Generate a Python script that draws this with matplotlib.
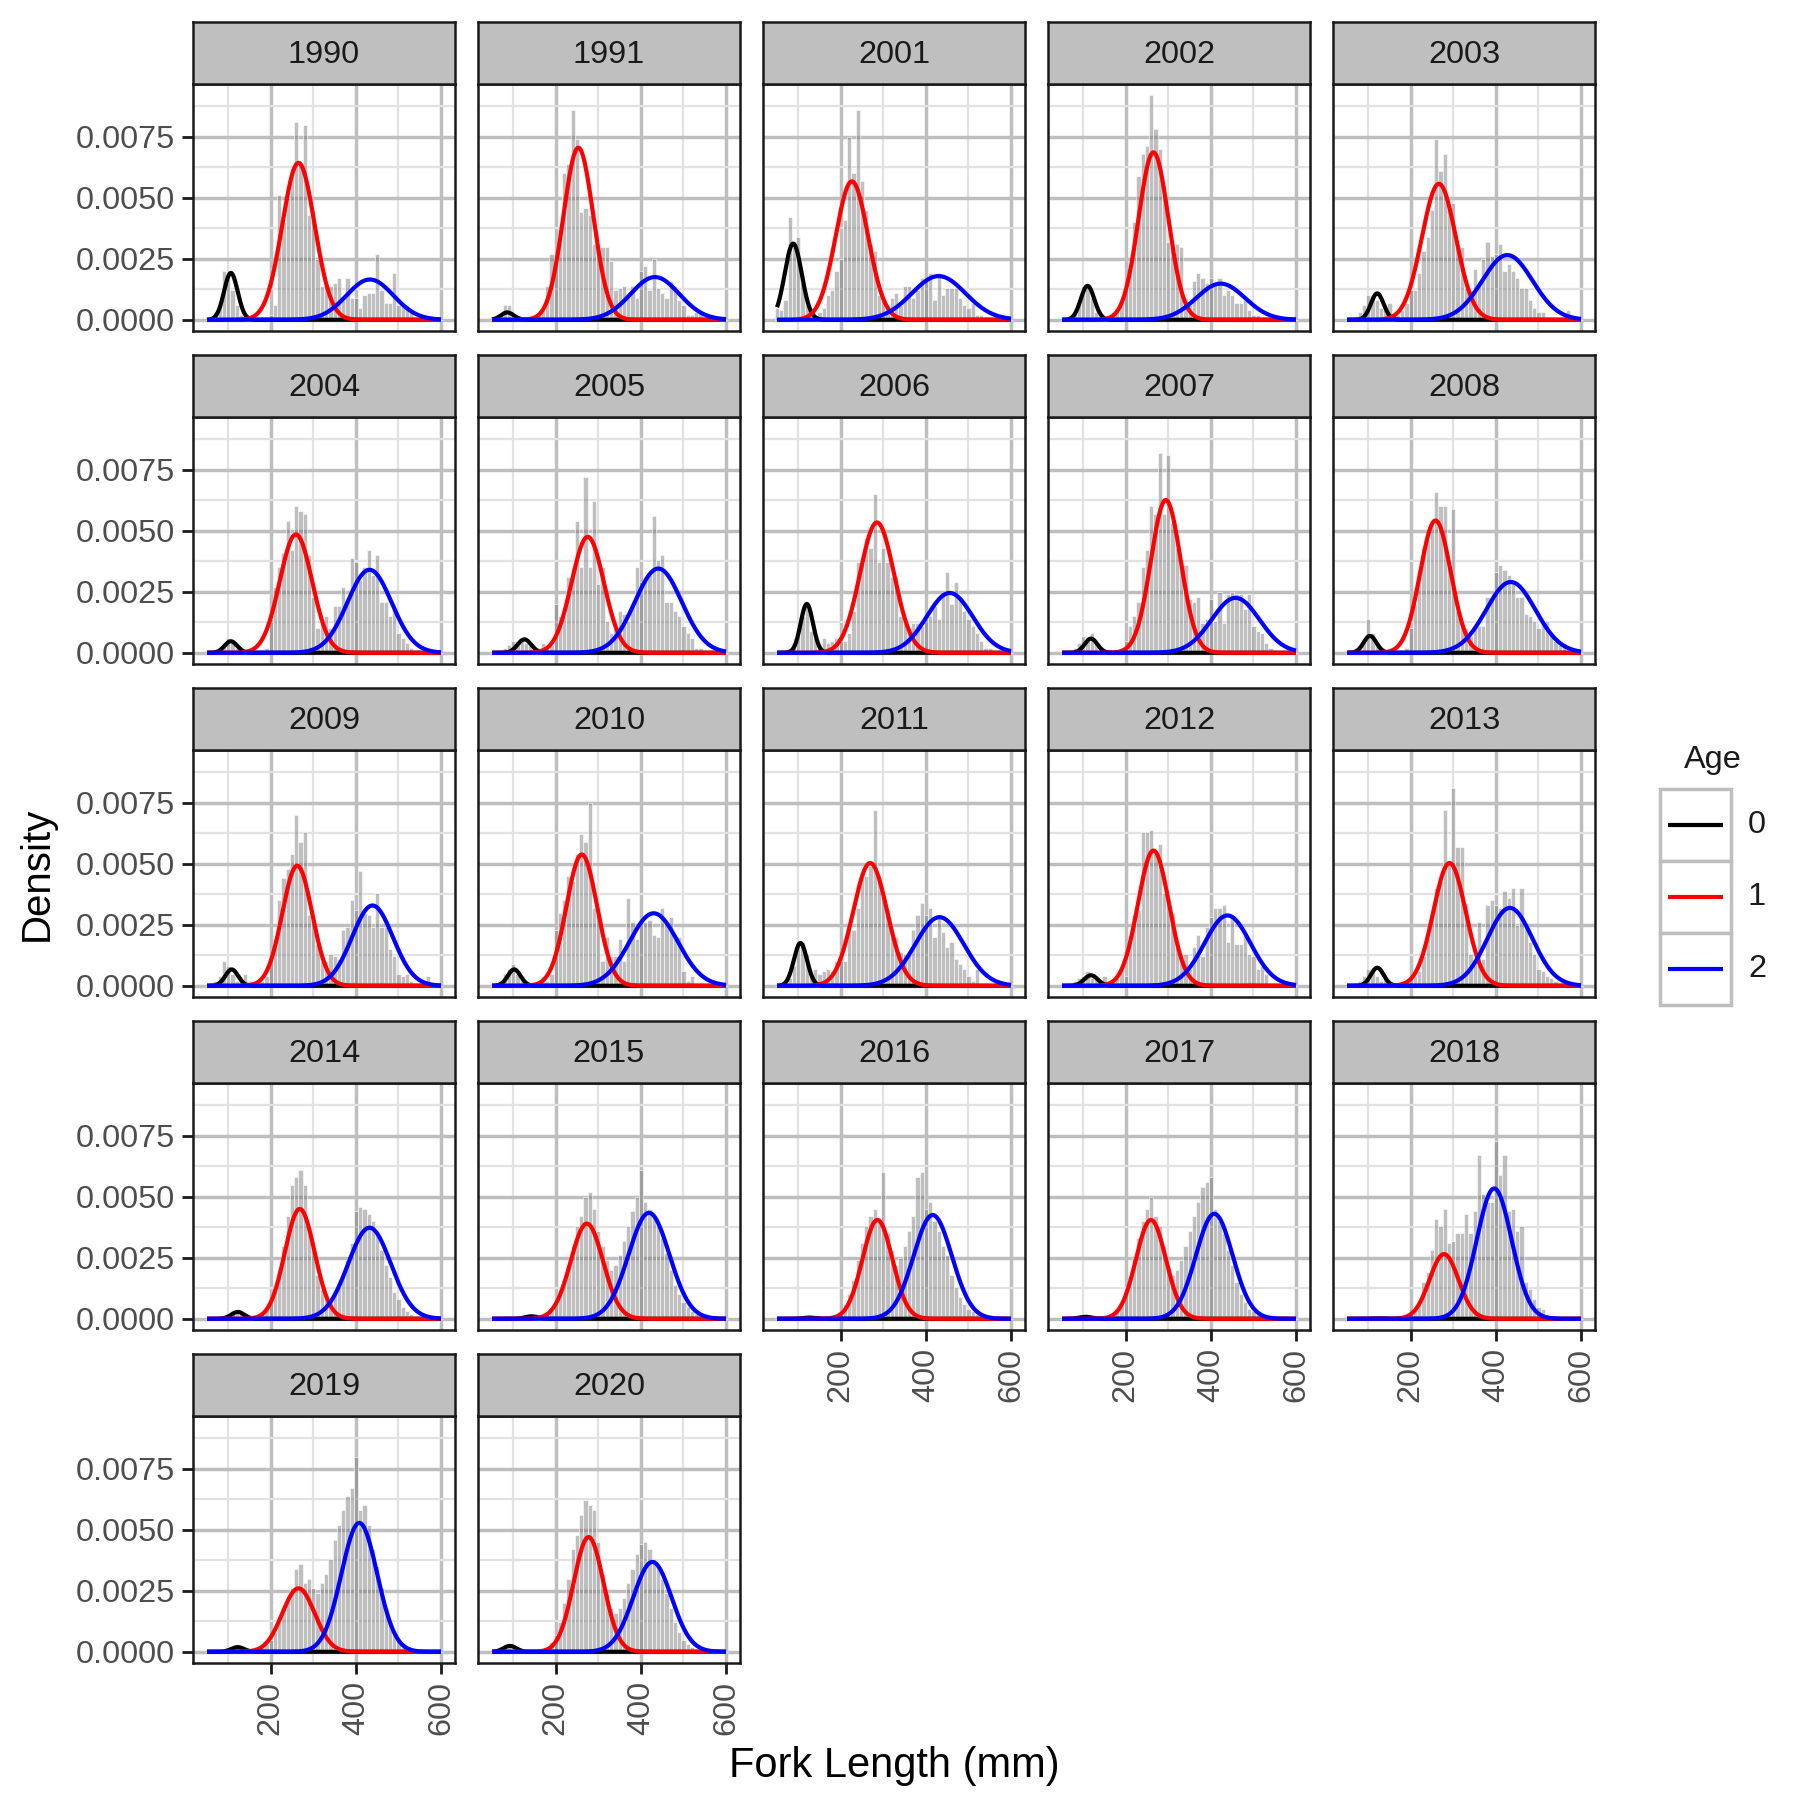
import numpy as np
import matplotlib
matplotlib.use("Agg")
import matplotlib.pyplot as plt
from matplotlib.patches import Rectangle

plt.rcParams['font.family'] = ['Liberation Sans', 'DejaVu Sans']

years = ['1990', '1991', '2001', '2002', '2003',
         '2004', '2005', '2006', '2007', '2008',
         '2009', '2010', '2011', '2012', '2013',
         '2014', '2015', '2016', '2017', '2018',
         '2019', '2020']

# histogram bin centres (mm), bin width 10 mm
bin_centers = list(range(50, 601, 10))

# histogram densities in units of 1e-4 (bins 50..600)
h1990 = [0,0,3,6,20, 19,12,6,2,1, 1,0,1,1,1, 2,6,51,40,50, 62,81,64,80,43, 45,25,14,14,14,
         15,17,8,17,9, 9,5,10,11,11, 27,12,7,7,19, 6,6,6,3,1, 1,0,0,0,0, 0]
h1991 = [0,0,2,6,6, 3,2,1,1,1, 1,2,5,14,27, 27,37,60,64,86, 74,44,46,43,31, 31,30,30,24,12,
         13,14,10,14,9, 20,22,12,25,13, 11,9,16,14,8, 6,2,2,3,3, 1,0,0,0,0, 0]
h2001 = [5,4,8,42,30, 34,15,8,3,2, 3,5,10,12,20, 25,41,75,60,86, 57,45,31,28,10, 8,6,9,11,6,
         14,14,9,12,17, 16,19,8,19,10, 13,13,13,9,6, 5,7,2,2,1, 1,0,0,0,0, 0]
h2002 = [0,0,1,3,6, 14,14,9,3,1, 1,2,3,5,8, 12,21,40,59,68, 71,92,78,70,55, 32,31,31,30,9,
         6,16,19,17,15, 17,15,17,10,12, 10,7,7,8,4, 2,2,1,1,0, 0,0,0,0,0, 0]
h2003 = [0,0,1,3,6, 10,10,8,5,4, 7,3,2,4,7, 12,12,19,28,34, 45,74,61,68,47, 48,30,30,13,12,
         21,16,25,32,26, 27,31,20,23,20, 17,13,13,8,5, 3,3,1,1,0, 0,1,4,0,0, 0]
h2004 = [0,0,1,2,4, 6,4,2,1,1, 0,1,1,1,2, 14,27,35,41,54, 42,60,58,57,40, 23,10,12,15,10,
         19,19,27,22,39, 37,30,35,42,32, 40,21,21,15,18, 8,6,4,2,1, 1,0,0,0,0, 0]
h2005 = [0,0,1,2,3, 5,5,6,4,3, 2,2,4,2,3, 20,15,15,31,35, 54,35,72,35,62, 28,35,13,8,10,
         17,16,13,19,35, 29,31,32,56,38, 40,21,21,17,15, 11,8,6,2,2, 1,0,0,0,0, 0]
h2006 = [0,0,1,2,4, 7,15,20,9,6, 2,6,4,5,6, 5,5,8,17,37, 36,47,43,65,37, 43,37,31,31,15,
         12,10,12,12,11, 14,15,19,14,24, 33,20,29,23,17, 14,11,8,5,2, 2,1,0,0,0, 0]
h2007 = [0,0,1,2,4, 7,5,8,4,2, 1,1,1,1,2, 5,11,15,21,35, 42,60,57,82,57, 81,53,43,37,36,
         22,21,23,12,14, 22,13,25,12,24, 25,24,24,18,24, 11,9,8,4,2, 1,0,0,0,0, 0]
h2008 = [0,0,1,3,5, 14,8,4,2,1, 1,1,1,1,2, 10,20,34,43,46, 54,66,60,60,36, 59,17,13,10,7,
         10,11,11,23,23, 33,36,34,32,29, 23,23,16,15,13, 10,13,13,8,5, 3,4,0,0,0, 0]
h2009 = [0,1,2,4,10, 8,5,2,2,5, 2,1,1,2,4, 13,19,35,44,48, 54,70,59,63,29, 29,17,10,10,13,
         12,11,23,24,35, 31,47,30,29,24, 38,24,24,15,12, 5,4,5,2,1, 1,1,4,0,0, 0]
h2010 = [0,0,1,5,7, 9,5,2,1,1, 1,1,4,2,5, 23,30,35,45,43, 54,62,59,75,32, 30,10,20,12,12,
         19,10,36,26,19, 27,26,27,21,20, 32,26,28,19,20, 6,2,4,1,1, 0,0,0,0,0, 0]
h2011 = [0,0,1,3,8, 18,18,13,4,7, 5,6,7,6,10, 10,10,23,23,32, 46,45,49,72,44, 38,31,20,20,14,
         13,14,23,29,34, 29,32,20,29,22, 16,18,11,9,7, 4,2,7,1,1, 0,0,0,0,0, 0]
h2012 = [0,0,1,2,3, 4,6,3,3,2, 4,2,2,3,7, 4,21,29,31,63, 63,64,54,58,38, 35,30,16,13,13,
         7,16,21,12,24, 28,32,32,33,18, 28,17,17,21,13, 12,7,8,5,1, 1,0,0,0,0, 0]
h2013 = [0,0,1,2,4, 7,7,4,2,3, 2,1,1,1,2, 3,4,6,12,20, 30,40,43,72,50, 81,57,57,34,13,
         10,26,11,33,35, 33,32,39,36,40, 25,40,25,18,13, 7,6,4,3,2, 1,0,0,0,0, 0]
h2014 = [0,0,0,1,1, 2,3,3,2,1, 1,1,1,2,4, 7,12,20,30,42, 55,58,61,55,38, 28,18,12,9,8,
         10,13,18,24,31, 44,46,45,43,40, 35,28,22,17,11, 8,5,3,2,1, 1,0,0,0,0, 0]
h2015 = [0,0,0,0,0, 1,1,1,1,1, 1,1,1,2,3, 6,10,16,22,30, 38,42,50,52,45, 36,30,24,20,22,
         26,32,38,44,50, 61,48,45,42,38, 33,27,20,14,10, 7,5,3,2,1, 1,0,0,0,0, 0]
h2016 = [0,0,0,0,0, 1,1,1,0,0, 0,1,1,1,2, 3,6,10,16,24, 31,38,42,45,40, 60,35,28,22,25,
         30,36,42,58,60, 45,48,40,36,30, 26,18,13,9,6, 4,3,2,1,1, 0,0,0,0,0, 0]
h2017 = [0,0,0,1,1, 1,1,1,0,0, 1,1,2,3,6, 10,17,25,33,40, 45,50,42,38,30, 22,18,20,24,30,
         36,42,48,54,56, 58,45,40,35,28, 22,15,10,7,4, 3,2,1,1,0, 0,0,0,0,0, 0]
h2018 = [0,0,0,0,0, 1,1,0,0,0, 0,0,1,1,1, 2,5,7,15,19, 28,41,38,45,31, 32,35,35,43,35,
         44,67,51,48,48, 73,59,67,44,45, 36,38,15,12,8, 5,4,2,1,1, 0,0,0,0,0, 0]
h2019 = [0,0,0,1,1, 2,2,2,1,1, 0,1,1,2,3, 5,8,12,18,22, 26,34,36,28,30, 26,24,28,32,38,
         46,52,58,64,67, 80,58,60,52,42, 35,26,18,12,8, 5,3,2,1,1, 0,0,0,0,0, 0]
h2020 = [0,1,2,3,2, 1,1,1,1,1, 1,1,1,2,4, 7,12,20,30,42, 48,56,62,60,58, 45,32,24,18,16,
         18,22,28,34,40, 44,45,42,38,36, 30,24,18,12,8, 5,3,2,1,1, 0,0,0,0,0, 0]

hists = [h1990, h1991, h2001, h2002, h2003, h2004, h2005, h2006, h2007, h2008, h2009,
         h2010, h2011, h2012, h2013, h2014, h2015, h2016, h2017, h2018, h2019, h2020]

# fitted normal components per age: mean (mm), sd (mm), peak density (1e-3)
mu0 = [106, 86, 88, 110, 121, 106, 126, 120, 118, 104, 108, 102, 105, 118, 121, 122, 143, 124, 105, 120, 122, 92]
sd0 = [16, 15, 20, 16, 15, 15, 16, 14.5, 15, 15, 15, 15, 15.5, 16, 15, 15, 15, 15, 15, 15, 15, 15]
pk0 = [1.92, 0.30, 3.12, 1.39, 1.08, 0.47, 0.55, 2.00, 0.58, 0.69, 0.67, 0.67, 1.75, 0.43, 0.74, 0.28, 0.10, 0.05, 0.08, 0.02, 0.19, 0.24]
mu1 = [265, 253, 226, 265, 266, 259, 275, 285, 294, 258, 262, 261, 269, 265, 291, 268, 273, 286, 259, 278, 265, 277]
sd1 = [38, 35, 38, 35, 40, 38, 38, 40, 35, 36, 35, 36, 40, 36.5, 38, 35, 38, 35, 35, 34, 38, 35]
pk1 = [6.43, 7.05, 5.67, 6.86, 5.57, 4.85, 4.75, 5.34, 6.26, 5.42, 4.92, 5.38, 5.03, 5.54, 5.03, 4.50, 3.90, 4.05, 4.05, 2.65, 2.60, 4.70]
mu2 = [433, 433, 430, 423, 427, 432, 441, 456, 458, 435, 439, 430, 432, 439, 433, 432, 419, 416, 408, 396, 408, 427]
sd2 = [55, 57, 63, 57, 59, 52, 55, 54, 56, 58, 48, 57, 57, 54, 53, 50, 48, 45, 43, 41, 42, 45]
pk2 = [1.65, 1.75, 1.79, 1.48, 2.65, 3.40, 3.45, 2.45, 2.25, 2.90, 3.29, 2.97, 2.81, 2.88, 3.19, 3.73, 4.34, 4.25, 4.30, 5.34, 5.28, 3.68]

ages = ['0', '1', '2']
age_colors = ['black', 'red', 'blue']

W, H = 1800, 1800
fig = plt.figure(figsize=(9, 9), dpi=200)

col_left = [193, 478, 763, 1048, 1333]
row_top = [22, 355, 688, 1021, 1354]
pw, ph, sh = 262, 247, 62

ymax_data = max(max(h) for h in hists) * 1e-4
ylim = (-0.05 * ymax_data, 1.05 * ymax_data)
xlim = (45 - 0.05 * 560, 605 + 0.05 * 560)
xs = np.linspace(50, 600, 600)

n_cols = 5
n = len(years)
for i, yr in enumerate(years):
    r, c = divmod(i, n_cols)
    x0 = col_left[c]
    y0 = row_top[r]
    ax = fig.add_axes([x0 / W, 1 - (y0 + sh + ph) / H, pw / W, ph / H])
    ax.set_xlim(*xlim)
    ax.set_ylim(*ylim)
    ax.set_xticks([200, 400, 600])
    ax.set_xticks([100, 300, 500], minor=True)
    ax.set_yticks([0, 0.0025, 0.005, 0.0075])
    ax.set_yticks([0.00125, 0.00375, 0.00625, 0.00875], minor=True)
    ax.grid(which='major', color='#BEBEBE', lw=1.25)
    ax.grid(which='minor', color='#E2E2E2', lw=0.8)
    ax.set_axisbelow(True)
    heights = [v * 1e-4 for v in hists[i]]
    ax.bar(bin_centers, heights, width=10, facecolor=(0.5, 0.5, 0.5, 0.5),
           edgecolor='white', linewidth=0.2, zorder=2)
    for mu, sd, pk, col in ((mu0[i], sd0[i], pk0[i], 'black'),
                            (mu1[i], sd1[i], pk1[i], 'red'),
                            (mu2[i], sd2[i], pk2[i], 'blue')):
        ys = pk * 1e-3 * np.exp(-0.5 * ((xs - mu) / sd) ** 2)
        ax.plot(xs, ys, color=col, lw=1.5, zorder=3, solid_capstyle='butt')
    for s in ax.spines.values():
        s.set_color('#1A1A1A')
        s.set_linewidth(0.9)
    ax.tick_params(which='minor', length=0)
    ax.tick_params(which='major', direction='out', length=4.0, width=1.0, color='#1A1A1A',
                   labelsize=11.7, labelcolor='#4D4D4D', pad=2.5)
    bottom_panel = (i + n_cols >= n)
    if bottom_panel:
        ax.set_xticklabels(['200', '400', '600'], rotation=90, va='top')
    else:
        ax.tick_params(axis='x', length=0, labelbottom=False)
    if c == 0:
        ax.set_yticklabels(['0.0000', '0.0025', '0.0050', '0.0075'])
    else:
        ax.tick_params(axis='y', length=0, labelleft=False)

    sax = fig.add_axes([x0 / W, 1 - (y0 + sh) / H, pw / W, sh / H])
    sax.set_facecolor('#BFBFBF')
    sax.set_xticks([]); sax.set_yticks([])
    for s in sax.spines.values():
        s.set_color('#1A1A1A')
        s.set_linewidth(0.9)
    sax.text(0.5, 0.47, yr, ha='center', va='center', fontsize=11.7, color='#1A1A1A',
             transform=sax.transAxes)

# axis titles
fig.text(894 / W, 1 - 1766 / H, 'Fork Length (mm)', ha='center', va='center', fontsize=15)
fig.text(37 / W, 1 - 874 / H, 'Density', ha='center', va='center', rotation=90, fontsize=14.5)

# legend
fig.text(1684 / W, 1 - 760 / H, 'Age', ha='left', va='center', fontsize=11.7, color='#1A1A1A')
key_x0, key_w, key_h, key_y0 = 1660, 71, 72, 789
lax = fig.add_axes([0, 0, 1, 1], facecolor='none')
lax.set_xlim(0, W); lax.set_ylim(H, 0); lax.axis('off')
for k, (lab, col) in enumerate(zip(ages, age_colors)):
    ky = key_y0 + k * key_h
    lax.add_patch(Rectangle((key_x0, ky), key_w, key_h, facecolor='white',
                            edgecolor='#BEBEBE', lw=1.25))
    lax.plot([key_x0 + 8, key_x0 + key_w - 8], [ky + key_h / 2] * 2, color=col, lw=1.5,
             solid_capstyle='butt')
    lax.text(1748, ky + key_h / 2, lab, ha='left', va='center', fontsize=11.7, color='#1A1A1A')

fig.savefig('out.png', dpi=200, facecolor='white')
